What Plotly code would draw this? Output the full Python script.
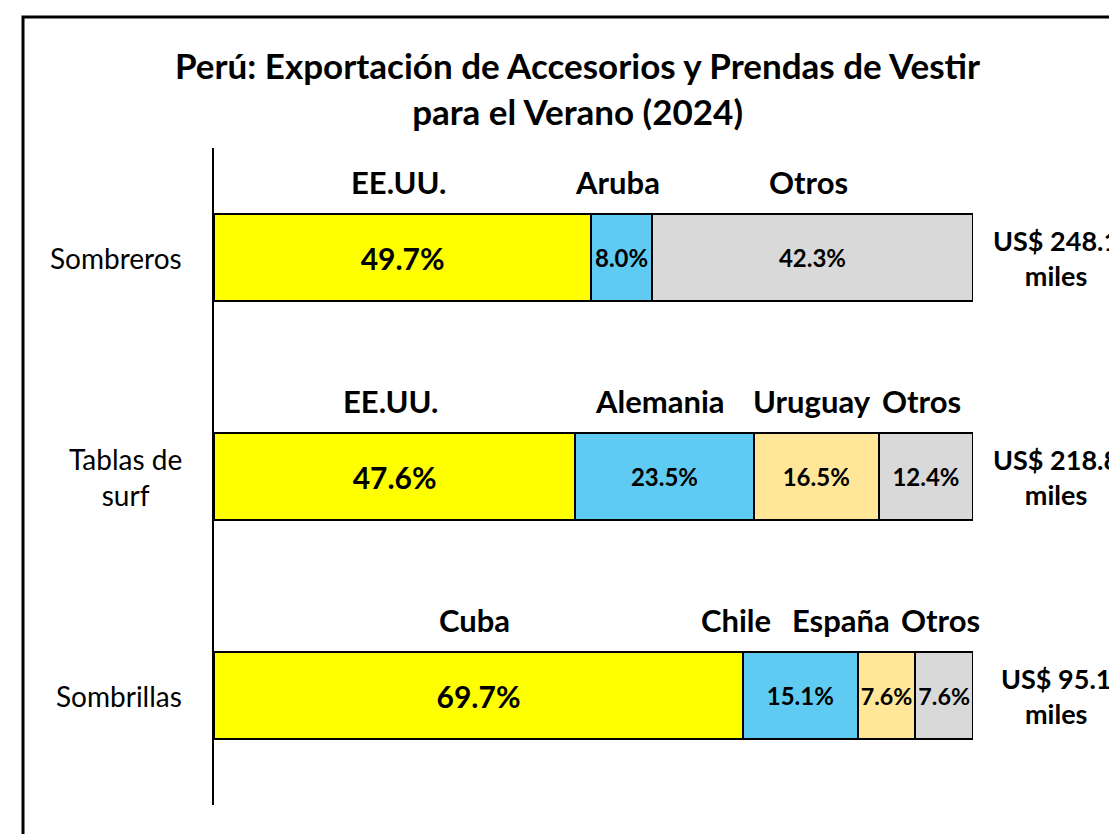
import plotly.graph_objects as go

categories = ["Sombreros", "Tablas de<br>surf", "Sombrillas"]
seg1_names = ["EE.UU.", "EE.UU.", "Cuba"]
seg1_vals = [49.7, 47.6, 69.7]
seg2_names = ["Aruba", "Alemania", "Chile"]
seg2_vals = [8.0, 23.5, 15.1]
seg3_names = ["Otros", "Uruguay", "España"]
seg3_vals = [42.3, 16.5, 7.6]
seg4_names = [None, "Otros", "Otros"]
seg4_vals = [None, 12.4, 7.6]
totals = ["US$ 248.1<br>miles", "US$ 218.8<br>miles", "US$ 95.1<br>miles"]

FONT = "Lato"
YELLOW = "#FFFF00"
BLUE = "#5FCBF3"
BEIGE = "#FFE699"
GRAY = "#D9D9D9"

seg3_colors = [GRAY, BEIGE, BEIGE]

fig = go.Figure()

def add_seg(vals, colors, size):
    fig.add_trace(go.Bar(
        y=categories, x=vals, orientation="h",
        marker=dict(color=colors, line=dict(color="black", width=2)),
        text=[f"{v:.1f}%" if v is not None else "" for v in vals],
        textposition="inside", insidetextanchor="middle", textangle=0,
        textfont=dict(family=FONT, size=size, color="black", weight="bold"),
        hoverinfo="skip", showlegend=False,
    ))

add_seg(seg1_vals, YELLOW, 30)
add_seg(seg2_vals, BLUE, 24)
add_seg(seg3_vals, seg3_colors, 24)
add_seg(seg4_vals, GRAY, 24)

# country labels above bars
nudges = {
    (2, 1): -64, (2, 2): -45, (2, 3): -4,
}
all_names = [seg1_names, seg2_names, seg3_names, seg4_names]
all_vals = [seg1_vals, seg2_vals, seg3_vals, seg4_vals]
for ci, cat in enumerate(categories):
    start = 0.0
    for si in range(4):
        v = all_vals[si][ci]
        n = all_names[si][ci]
        if v is None:
            continue
        fig.add_annotation(
            x=start + v / 2, y=cat, xref="x", yref="y",
            text=f"<b>{n}</b>", showarrow=False, yshift=76,
            xshift=nudges.get((ci, si), -4),
            font=dict(family=FONT, size=31, color="black"),
        )
        start += v
    # category label
    fig.add_annotation(
        x=0, y=cat, xref="paper", yref="y", xanchor="right", align="center",
        text=cat, showarrow=False, xshift=-30,
        font=dict(family=FONT, size=28, color="black"),
    )
    # totals
    fig.add_annotation(
        x=1.11, y=cat, xref="paper", yref="y", xanchor="center", align="center",
        text=f"<b>{totals[ci]}</b>", showarrow=False,
        font=dict(family=FONT, size=27, color="black"),
    )

# title
fig.add_annotation(
    x=(577 - 214) / 759, y=(805 - 88) / 657, xref="paper", yref="paper",
    text="<b>Perú: Exportación de Accesorios y Prendas de Vestir<br>para el Verano (2024)</b>",
    showarrow=False, align="center", xanchor="center", yanchor="middle",
    font=dict(family=FONT, size=35, color="black"),
)

# outer frame (extends beyond visible canvas)
fig.add_shape(
    type="rect", xref="paper", yref="paper",
    x0=(23 - 214) / 759, x1=1.4, y0=-0.2, y1=(805 - 17) / 657,
    line=dict(color="black", width=3), fillcolor="rgba(0,0,0,0)", layer="above",
)

# page body has an 8px margin; shift the figure up/left to compensate
fig.update_layout(
    barmode="stack", bargap=0.6,
    width=1125, height=834,
    margin=dict(l=206, r=160, t=140, b=37),
    plot_bgcolor="white", paper_bgcolor="white",
    xaxis=dict(range=[0, 100], visible=False, fixedrange=True),
    yaxis=dict(autorange="reversed", showticklabels=False, showline=True,
               linecolor="black", linewidth=1.5, ticks="", showgrid=False,
               zeroline=False),
)

fig.write_html("out.html")
